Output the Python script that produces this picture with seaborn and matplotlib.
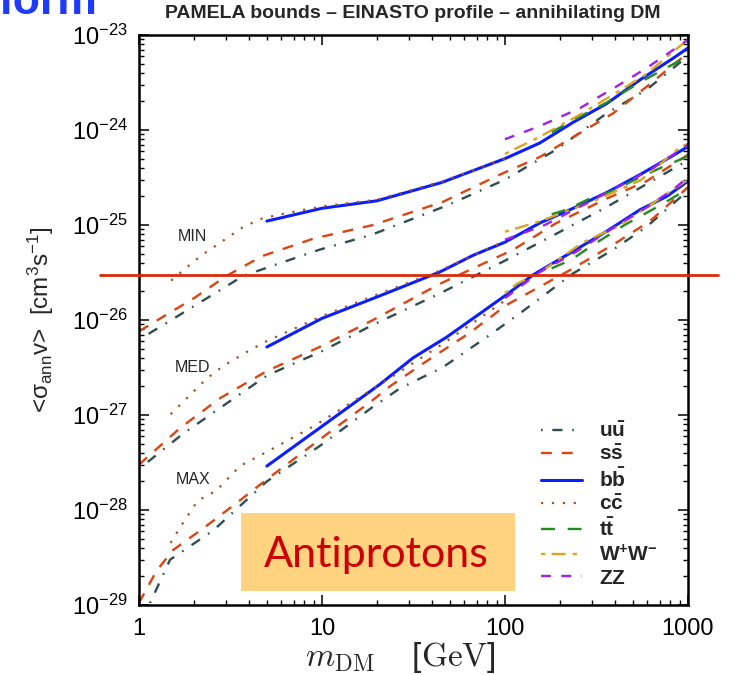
import numpy as np
import pandas as pd
import matplotlib
matplotlib.use("Agg")
import matplotlib.pyplot as plt
import seaborn as sns
from matplotlib.patches import Rectangle
from matplotlib.ticker import NullFormatter

# ---------------- data ----------------
CHANNELS = ["uu", "ss", "bb", "cc", "tt", "WW", "ZZ"]
CHANNEL_LABELS = [r"$\mathbf{u\bar{u}}$", r"$\mathbf{s\bar{s}}$", r"$\mathbf{b\bar{b}}$",
                  r"$\mathbf{c\bar{c}}$", r"$\mathbf{t\bar{t}}$", r"$\mathbf{W^{+}W^{-}}$",
                  r"$\mathbf{ZZ}$"]
PROFILES = ["MIN", "MED", "MAX"]

# MIN propagation
min_uu_m = [1, 2, 3.7, 5.1, 9.7, 18.7, 48, 100, 190, 360, 600, 1000]
min_uu_s = [6.2e-27, 1.4e-26, 2.9e-26, 3.6e-26, 5.5e-26, 7.9e-26, 1.6e-25, 3.0e-25, 6.2e-25, 1.5e-24, 2.7e-24, 6.0e-24]
min_ss_m = [1, 2, 3, 4.7, 9, 19, 46, 94, 155, 257, 390, 600, 1000]
min_ss_s = [7.6e-27, 1.7e-26, 2.9e-26, 4.7e-26, 7.2e-26, 1.0e-25, 1.76e-25, 3.4e-25, 5.2e-25, 9.3e-25, 1.5e-24, 2.9e-24, 6.5e-24]
min_bb_m = [5, 10, 20, 45, 100, 155, 235, 360, 550, 830, 1000]
min_bb_s = [1.1e-25, 1.5e-25, 1.8e-25, 2.8e-25, 5.0e-25, 7.3e-25, 1.2e-24, 1.9e-24, 3.4e-24, 5.7e-24, 7.3e-24]
min_cc_m = [1.5, 1.8, 2.2, 3, 3.7, 4.7, 6, 10, 20, 45, 100]
min_cc_s = [2.6e-26, 3.5e-26, 4.8e-26, 7.2e-26, 9.5e-26, 1.17e-25, 1.3e-25, 1.57e-25, 1.85e-25, 2.85e-25, 5.0e-25]
min_tt_m = [180, 250, 360, 550, 1000]
min_tt_s = [9.5e-25, 1.35e-24, 1.95e-24, 3.2e-24, 6.0e-24]
min_ww_m = [100, 155, 257, 410, 595, 1000]
min_ww_s = [5.6e-25, 8.5e-25, 1.45e-24, 2.5e-24, 3.9e-24, 9.0e-24]
min_zz_m = [100, 155, 257, 410, 595, 1000]
min_zz_s = [8.0e-25, 1.1e-24, 1.7e-24, 2.9e-24, 4.5e-24, 8.9e-24]

# MED propagation
med_uu_m = [1, 1.75, 5, 10, 19, 44, 102, 191, 360, 1000]
med_uu_s = [2.7e-28, 6.4e-28, 2.6e-27, 4.7e-27, 8.9e-27, 1.9e-26, 4.3e-26, 8.1e-26, 1.55e-25, 4.8e-25]
med_ss_m = [1, 1.68, 2.77, 5, 9.7, 19, 44, 67, 111, 191, 360, 595, 1000]
med_ss_s = [3.0e-28, 7.3e-28, 1.5e-27, 2.9e-27, 5.2e-27, 1.0e-26, 2.4e-26, 3.5e-26, 5.5e-26, 1.05e-25, 1.9e-25, 2.9e-25, 5.5e-25]
med_bb_m = [5, 10, 20, 44, 67, 100, 155, 236, 360, 548, 830, 1000]
med_bb_s = [5.2e-27, 1.04e-26, 1.75e-26, 3.2e-26, 4.8e-26, 6.6e-26, 1.05e-25, 1.5e-25, 2.2e-25, 3.4e-25, 5.4e-25, 6.7e-25]
med_cc_m = [1.49, 1.8, 2.36, 2.9, 3.87, 5, 10, 20, 44, 100]
med_cc_s = [1.02e-27, 1.46e-27, 2.44e-27, 3.3e-27, 4.6e-27, 6.0e-27, 1.1e-26, 1.85e-26, 3.3e-26, 6.8e-26]
med_tt_m = [180, 215, 288, 385, 550, 730, 1000]
med_tt_s = [1.3e-25, 1.44e-25, 1.88e-25, 2.28e-25, 3.2e-25, 4.1e-25, 5.3e-25]
med_ww_m = [100, 150, 300, 550, 900, 1000]
med_ww_s = [8.5e-26, 1.07e-25, 1.76e-25, 2.95e-25, 6.5e-25, 7.2e-25]
med_zz_m = [100, 165, 460, 635, 1000]
med_zz_s = [7.0e-26, 1.0e-25, 2.8e-25, 3.9e-25, 7.0e-25]

# MAX propagation
max_uu_m = [1.15, 1.48, 2.55, 5, 9.7, 19, 26.6, 46, 83, 126, 236, 390, 595, 1000]
max_uu_s = [1.05e-29, 3.0e-29, 6.1e-29, 2.0e-28, 4.7e-28, 1.22e-27, 1.9e-27, 3.2e-27, 7.0e-27, 1.25e-26, 3.1e-26, 5.5e-26, 9.6e-26, 2.3e-25]
max_ss_m = [1, 1.25, 1.54, 2.34, 3.56, 5, 9.7, 19, 23.5, 35.8, 64, 102, 236, 410, 620, 1000]
max_ss_s = [1.05e-29, 2.3e-29, 3.8e-29, 6.8e-29, 1.26e-28, 2.1e-28, 5.5e-28, 1.44e-27, 2.0e-27, 3.5e-27, 7.3e-27, 1.44e-26, 3.5e-26, 6.6e-26, 1.1e-25, 2.5e-25]
max_bb_m = [5, 10, 20.7, 31.5, 48, 73, 100, 143, 236, 360, 548, 765, 1000]
max_bb_s = [2.9e-28, 7.6e-28, 2.1e-27, 4.0e-27, 6.6e-27, 1.17e-26, 1.8e-26, 3.0e-26, 5.3e-26, 8.6e-26, 1.45e-25, 2.0e-25, 2.9e-25]
max_cc_m = [1.49, 1.68, 2.1, 2.65, 3.56, 5, 9, 20, 45, 100]
max_cc_s = [4.5e-29, 6.6e-29, 1.26e-28, 1.6e-28, 2.9e-28, 4.1e-28, 7.6e-28, 2.0e-27, 5.5e-27, 1.6e-26]
max_tt_m = [180, 230, 300, 450, 700, 870, 1000]
max_tt_s = [3.5e-26, 4.3e-26, 6.1e-26, 1.0e-25, 1.6e-25, 2.05e-25, 2.45e-25]
max_ww_m = [100, 116, 160, 265, 410, 600, 1000]
max_ww_s = [1.9e-26, 2.4e-26, 3.3e-26, 6.5e-26, 9.6e-26, 1.55e-25, 3.0e-25]
max_zz_m = [100, 155, 236, 440, 600, 850, 1000]
max_zz_s = [1.7e-26, 3.2e-26, 5.0e-26, 1.08e-25, 1.55e-25, 2.45e-25, 3.2e-25]

THERMAL_XS = 3e-26
PROFILE_LABEL_MASS = 1.97
PROFILE_LABEL_XS = [7.65e-26, 3.2e-27, 2.07e-28]

XTICKS = [1, 10, 100, 1000]
XTICK_LABELS = ["1", "10", "100", "1000"]
YTICKS = [1e-29, 1e-28, 1e-27, 1e-26, 1e-25, 1e-24, 1e-23]
YTICK_LABELS = [r"10$^{-29}$", r"10$^{-28}$", r"10$^{-27}$", r"10$^{-26}$",
                r"10$^{-25}$", r"10$^{-24}$", r"10$^{-23}$"]

# ---------------- assemble long-form table ----------------
series = {
    "MIN": [(min_uu_m, min_uu_s), (min_ss_m, min_ss_s), (min_bb_m, min_bb_s), (min_cc_m, min_cc_s),
            (min_tt_m, min_tt_s), (min_ww_m, min_ww_s), (min_zz_m, min_zz_s)],
    "MED": [(med_uu_m, med_uu_s), (med_ss_m, med_ss_s), (med_bb_m, med_bb_s), (med_cc_m, med_cc_s),
            (med_tt_m, med_tt_s), (med_ww_m, med_ww_s), (med_zz_m, med_zz_s)],
    "MAX": [(max_uu_m, max_uu_s), (max_ss_m, max_ss_s), (max_bb_m, max_bb_s), (max_cc_m, max_cc_s),
            (max_tt_m, max_tt_s), (max_ww_m, max_ww_s), (max_zz_m, max_zz_s)],
}
frames = []
for prof in PROFILES:
    for lab, (m, s) in zip(CHANNEL_LABELS, series[prof]):
        frames.append(pd.DataFrame({"mass": m, "sigma": s, "channel": lab, "profile": prof}))
df = pd.concat(frames, ignore_index=True)

colors = ["#2F4F4F", "#DD4411", "#0A1EFF", "#A0522D", "#228B22", "#DAA520", "#A020F0"]
dash_list = [(0.7, 4.1, 4.3, 4.1), (4.6, 4.2), "", (1.0, 3.9), (5.9, 5.4), (1.8, 2.7, 5.9, 3.0), (4.2, 4.4)]
width_list = [1.7, 1.7, 2.2, 1.6, 1.7, 1.7, 1.7]
palette = dict(zip(CHANNEL_LABELS, colors))
dashes = dict(zip(CHANNEL_LABELS, dash_list))
sizes = dict(zip(CHANNEL_LABELS, width_list))

# ---------------- plotting ----------------
sns.set_style("ticks")
plt.rcParams["font.family"] = ["Liberation Sans", "DejaVu Sans"]
plt.rcParams["mathtext.fontset"] = "custom"
plt.rcParams["mathtext.rm"] = "Liberation Sans"
plt.rcParams["mathtext.it"] = "Liberation Sans:italic"
plt.rcParams["mathtext.bf"] = "Liberation Sans:bold"
plt.rcParams["mathtext.default"] = "regular"

fig = plt.figure(figsize=(7.35, 6.75), dpi=100)
ax = fig.add_axes([0.189, 0.1037, 0.747, 0.8444])
ax.set_xscale("log")
ax.set_yscale("log")

sns.lineplot(data=df, x="mass", y="sigma", hue="channel", style="channel", size="channel",
             units="profile", estimator=None, sort=False,
             hue_order=CHANNEL_LABELS, style_order=CHANNEL_LABELS, size_order=CHANNEL_LABELS,
             palette=palette, dashes=dashes, sizes=sizes, ax=ax, legend="full")

ax.axhline(THERMAL_XS, xmin=-0.071, xmax=1.055, color="#D92B0B", lw=2.0, clip_on=False, zorder=5)

ax.set_xlim(1, 1000)
ax.set_ylim(1e-29, 1e-23)
ax.set_xticks(XTICKS)
ax.set_xticklabels(XTICK_LABELS)
ax.set_yticks(YTICKS)
ax.set_yticklabels(YTICK_LABELS)
ax.xaxis.set_minor_formatter(NullFormatter())
ax.yaxis.set_minor_formatter(NullFormatter())
ax.tick_params(which="both", direction="in", top=True, right=True, colors="black")
ax.tick_params(which="major", length=7, width=1.1, labelsize=17)
ax.tick_params(which="minor", length=3.6, width=1.0)
ax.tick_params(axis="y", which="major", pad=8)
ax.tick_params(axis="x", which="major", pad=9)
for sp in ax.spines.values():
    sp.set_linewidth(1.8)
    sp.set_color("black")

ax.set_xlabel(r"$\mathit{m}_{\rm DM}\quad\;[{\rm GeV}]$", fontsize=24, math_fontfamily="cm")
ax.xaxis.set_label_coords(0.477, -0.062)
ax.set_ylabel(r"<σ$_{\rm ann}$v>  [cm$^3$s$^{-1}$]", fontsize=17.5, labelpad=11)

for prof, yv in zip(PROFILES, PROFILE_LABEL_XS):
    ax.text(PROFILE_LABEL_MASS, yv, prof, fontsize=11.5, ha="center", va="center")

sns.move_legend(ax, "upper left", bbox_to_anchor=(0.732, 0.322), title=None, frameon=False,
                fontsize=15, handlelength=2.0, handletextpad=0.8, labelspacing=0.17,
                borderpad=0, borderaxespad=0)

ax.add_patch(Rectangle((0.186, 0.0246), 0.499, 0.1368, transform=ax.transAxes,
                       facecolor="#FFD37F", edgecolor="none", zorder=6))
ax.text(0.432, 0.0667, "Antiprotons", transform=ax.transAxes, ha="center", va="baseline",
        fontsize=31, color="#CC0000", family="Lato", zorder=7)

fig.text(0.562, 1 - 13 / 675, "PAMELA bounds \u2013 EINASTO profile \u2013 annihilating DM",
         ha="center", va="center", fontsize=14, fontweight="bold")
fig.text(-0.003, 1 - 14 / 675, "form", ha="left", va="baseline", fontsize=32,
         fontweight="bold", color="#1F3AFF")

fig.savefig("out.png", dpi=100)
